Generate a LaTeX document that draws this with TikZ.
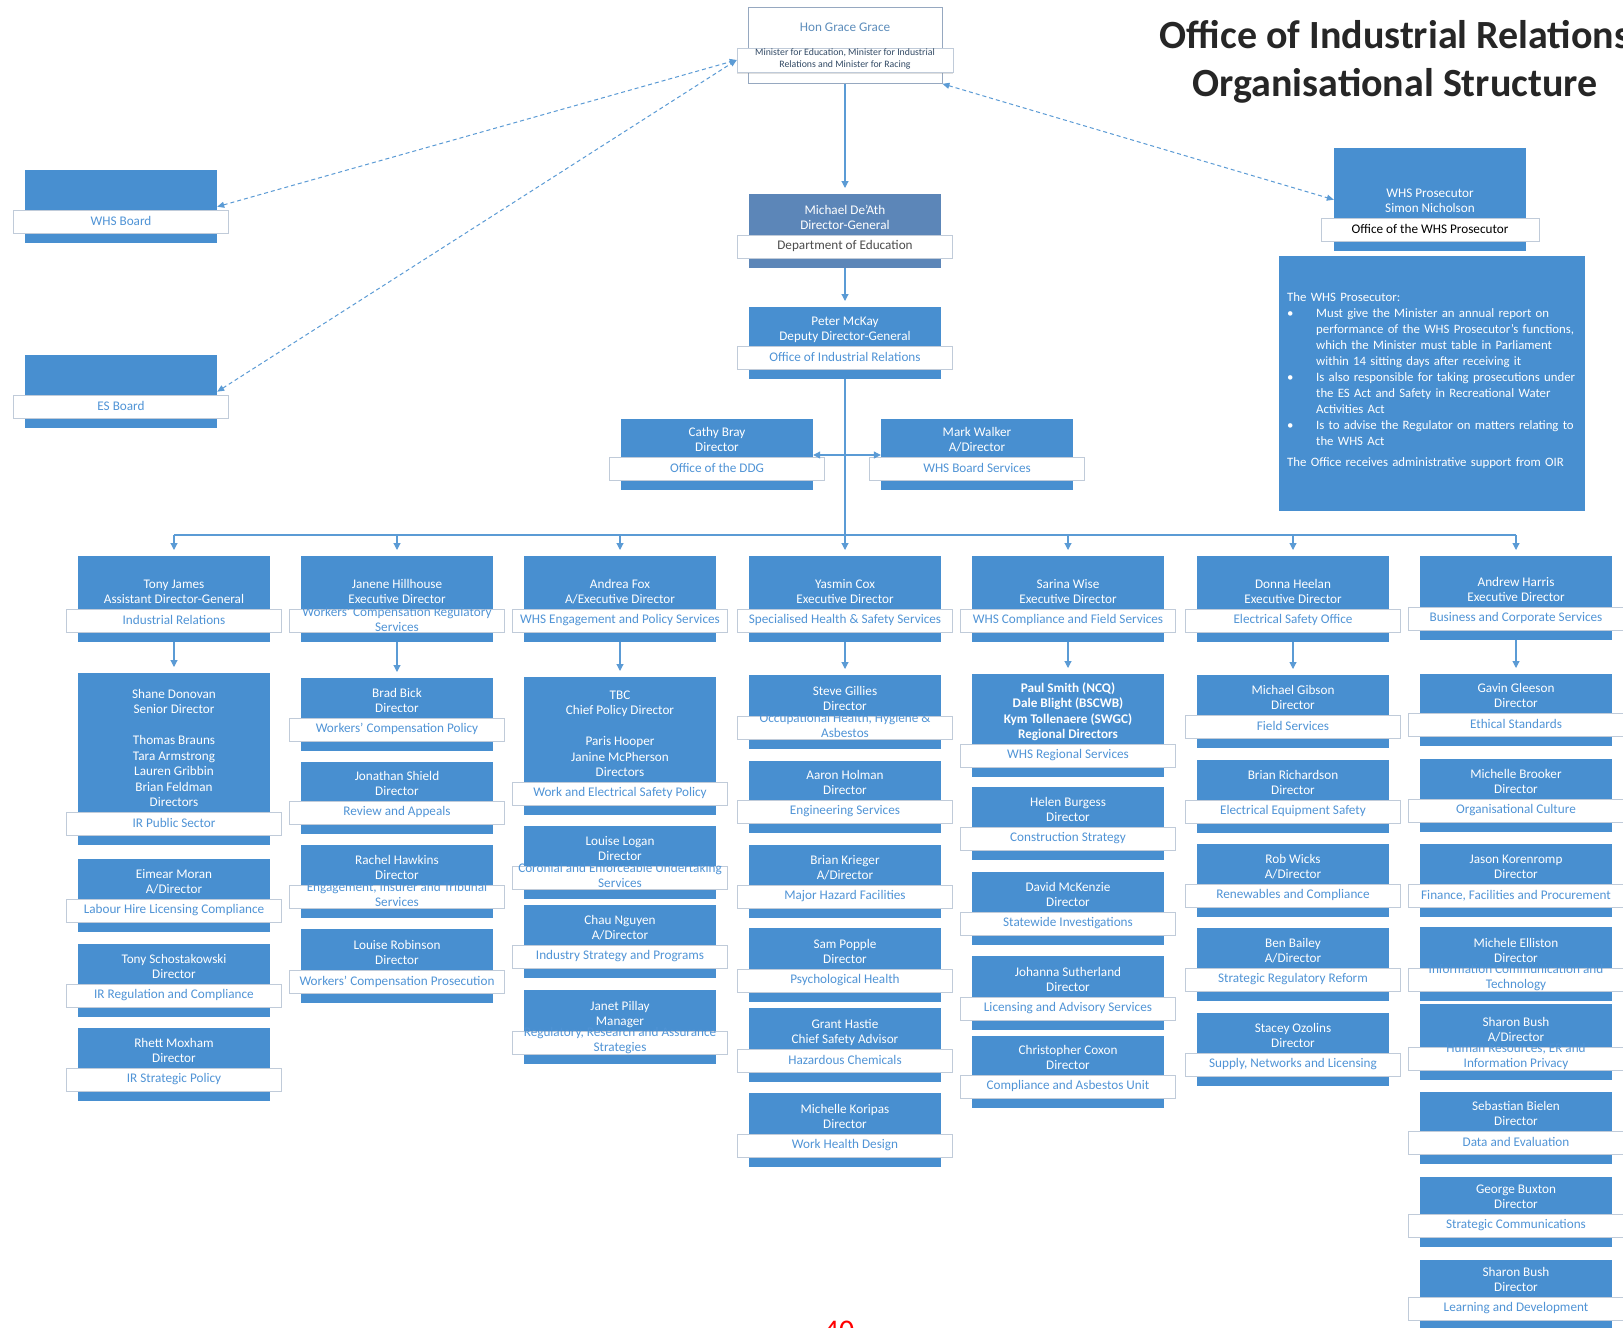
\documentclass[tikz,border=0pt]{standalone}
\usepackage{fontspec}
\setmainfont{Carlito}
\usetikzlibrary{calc, arrows.meta, shadows}

\definecolor{oirblue}{RGB}{72,143,208}
\definecolor{oirdark}{RGB}{92,134,184}
\definecolor{oirtext}{RGB}{80,148,214}
\definecolor{oirline}{RGB}{91,155,213}
\definecolor{oirframe}{RGB}{150,168,192}

% one org unit: blue box, white band with the unit name, people above the band
\newcommand{\orgunit}[6]{%
  \node (#1) [unitbox, minimum height=#4pt] at (#2,#3) {};
  \node (#1l) [unitband] at ($(#1.south)+(0,-22)$) {#6};
  \node (#1n) [unitname] at (#1l.north) {#5\strut};
}
\newcommand{\twolines}[2]{\smash{\makebox[0pt]{\raisebox{-1.5pt}{\parbox[c]{250pt}{\centering #1\\#2}}}}}

\begin{document}
\begin{tikzpicture}[
    x=1pt, y=-1pt,
    unitbox/.style={rectangle, fill=oirblue, anchor=north, minimum width=192pt, inner sep=0pt},
    unitband/.style={rectangle, fill=white, draw=oirframe!60, line width=0.6pt, minimum width=215pt, minimum height=23pt, inner sep=0pt, text=oirtext, font=\fontsize{13.2}{15}\selectfont, drop shadow={shadow xshift=0pt, shadow yshift=-1.5pt, opacity=.25}},
    unitname/.style={anchor=south, inner sep=0pt, align=center, text=white, font=\fontsize{13.2}{15.5}\selectfont},
    arrow/.style={draw=oirline, line width=1.1pt, -{Triangle[length=7pt,width=7pt]}, shorten >=6pt},
    link/.style={draw=oirline, line width=1.1pt},
    boardlink/.style={draw=oirline, line width=1pt, dash pattern=on 4pt off 3pt, {Triangle[length=7pt,width=6pt]}-{Triangle[length=7pt,width=6pt]}}
]
\fill[white] (0,0) rectangle (1623,1328);
\useasboundingbox (0,0) rectangle (1623,1328);

% Title
\node (title) [align=center, text=black!85, font=\fontsize{40}{48}\selectfont\bfseries] at (1395,62) {Office of Industrial Relations\\Organisational Structure};

% Minister
\node (minister) [rectangle, draw=oirframe, fill=white, line width=0.8pt, anchor=north, minimum width=194pt, minimum height=76pt] at (845,7) {};
\node (ministern) [text=oirtext!70!gray, font=\fontsize{13.2}{15}\selectfont] at (845,27) {Hon Grace Grace};
\node (ministerl) [unitband, minimum width=216pt, minimum height=24pt, text=black!45!oirdark, font=\fontsize{9.8}{11.5}\selectfont] at (845,60) {\twolines{Minister for Education, Minister for Industrial}{Relations and Minister for Racing}};

% Boards and prosecutor
\orgunit{whsb}{121}{170}{73}{}{WHS Board}
\orgunit{esb}{121}{355}{73}{}{ES Board}
\begin{scope}[unitband/.append style={text=black, minimum width=218pt}]
\orgunit{prosecutor}{1430}{148}{103}{WHS Prosecutor\\Simon Nicholson}{Office of the WHS Prosecutor}
\end{scope}
\node (prosnote) [rectangle, fill=oirblue, anchor=north west, minimum width=306pt, minimum height=255pt] at (1279,256) {};
\node (prosnotet) [anchor=north west, inner sep=0pt, text width=300pt, align=left, text=white, font=\fontsize{12.8}{16}\selectfont] at (1287,292) {The WHS Prosecutor:\\
\makebox[29pt][l]{\textbullet}Must give the Minister an annual report on\\
\hspace*{29pt}performance of the WHS Prosecutor's functions,\\
\hspace*{29pt}which the Minister must table in Parliament\\
\hspace*{29pt}within 14 sitting days after receiving it\\
\makebox[29pt][l]{\textbullet}Is also responsible for taking prosecutions under\\
\hspace*{29pt}the ES Act and Safety in Recreational Water\\
\hspace*{29pt}Activities Act\\
\makebox[29pt][l]{\textbullet}Is to advise the Regulator on matters relating to\\
\hspace*{29pt}the WHS Act\\[5pt]
The Office receives administrative support from OIR};

% Director-General and DDG
\begin{scope}[unitbox/.append style={fill=oirdark}, unitband/.append style={text=black!70}]
\orgunit{death}{845}{194}{74}{Michael De'Ath\\Director-General}{Department of Education}
\end{scope}
\orgunit{mckay}{845}{307}{72}{Peter McKay\\Deputy Director-General}{Office of Industrial Relations}
\orgunit{bray}{717}{419}{71}{Cathy Bray\\Director}{Office of the DDG}
\orgunit{walker}{977}{419}{71}{Mark Walker\\A/Director}{WHS Board Services}

% Executive row
\orgunit{james}{174}{556}{86}{Tony James\\Assistant Director-General}{Industrial Relations}
\orgunit{hillhouse}{397}{556}{86}{Janene Hillhouse\\Executive Director}{\twolines{Workers' Compensation Regulatory}{Services}}
\orgunit{fox}{620}{556}{86}{Andrea Fox\\A/Executive Director}{WHS Engagement and Policy Services}
\orgunit{cox}{845}{556}{86}{Yasmin Cox\\Executive Director}{Specialised Health \& Safety Services}
\orgunit{wise}{1068}{556}{86}{Sarina Wise\\Executive Director}{WHS Compliance and Field Services}
\orgunit{heelan}{1293}{556}{86}{Donna Heelan\\Executive Director}{Electrical Safety Office}
\orgunit{harris}{1516}{556}{84}{Andrew Harris\\Executive Director}{Business and Corporate Services}

% Industrial Relations
\orgunit{donovan}{174}{673}{172}{Shane Donovan\\Senior Director\\[15.5pt]Thomas Brauns\\Tara Armstrong\\Lauren Gribbin\\Brian Feldman\\Directors}{IR Public Sector}
\orgunit{moran}{174}{859}{73}{Eimear Moran\\A/Director}{Labour Hire Licensing Compliance}
\orgunit{schos}{174}{944}{73}{Tony Schostakowski\\Director}{IR Regulation and Compliance}
\orgunit{moxham}{174}{1028}{73}{Rhett Moxham\\Director}{IR Strategic Policy}

% Workers' Compensation
\orgunit{bick}{397}{678}{73}{Brad Bick\\Director}{Workers' Compensation Policy}
\orgunit{shield}{397}{762}{72}{Jonathan Shield\\Director}{Review and Appeals}
\orgunit{hawkins}{397}{845}{73}{Rachel Hawkins\\Director}{\twolines{Engagement, Insurer and Tribunal}{Services}}
\orgunit{robinson}{397}{929}{74}{Louise Robinson\\Director}{Workers' Compensation Prosecution}

% WHS Engagement and Policy
\orgunit{tbc}{620}{677}{138}{TBC\\Chief Policy Director\\[15.5pt]Paris Hooper\\Janine McPherson\\Directors}{Work and Electrical Safety Policy}
\orgunit{logan}{620}{826}{73}{Louise Logan\\Director}{\twolines{Coronial and Enforceable Undertaking}{Services}}
\orgunit{nguyen}{620}{905}{73}{Chau Nguyen\\A/Director}{Industry Strategy and Programs}
\orgunit{pillay}{620}{990}{74}{Janet Pillay\\Manager}{\twolines{Regulatory, Research and Assurance}{Strategies}}

% Specialised Health & Safety
\orgunit{gillies}{845}{675}{74}{Steve Gillies\\Director}{\twolines{Occupational Health, Hygiene \&}{Asbestos}}
\orgunit{holman}{845}{761}{72}{Aaron Holman\\Director}{Engineering Services}
\orgunit{krieger}{845}{845}{73}{Brian Krieger\\A/Director}{Major Hazard Facilities}
\orgunit{popple}{845}{928}{74}{Sam Popple\\Director}{Psychological Health}
\orgunit{hastie}{845}{1008}{74}{Grant Hastie\\Chief Safety Advisor}{Hazardous Chemicals}
\orgunit{koripas}{845}{1093}{74}{Michelle Koripas\\Director}{Work Health Design}

% WHS Compliance and Field
\begin{scope}[unitname/.append style={font=\fontsize{13.2}{15.5}\selectfont\bfseries}]
\orgunit{smith}{1068}{674}{103}{Paul Smith (NCQ)\\Dale Blight (BSCWB)\\Kym Tollenaere (SWGC)\\Regional Directors}{WHS Regional Services}
\end{scope}
\orgunit{burgess}{1068}{787}{73}{Helen Burgess\\Director}{Construction Strategy}
\orgunit{mckenzie}{1068}{872}{73}{David McKenzie\\Director}{Statewide Investigations}
\orgunit{sutherland}{1068}{956}{74}{Johanna Sutherland\\Director}{Licensing and Advisory Services}
\orgunit{coxon}{1068}{1036}{72}{Christopher Coxon\\Director}{Compliance and Asbestos Unit}

% Electrical Safety Office
\orgunit{gibson}{1293}{675}{73}{Michael Gibson\\Director}{Field Services}
\orgunit{richardson}{1293}{760}{73}{Brian Richardson\\Director}{Electrical Equipment Safety}
\orgunit{wicks}{1293}{844}{73}{Rob Wicks\\A/Director}{Renewables and Compliance}
\orgunit{bailey}{1293}{928}{73}{Ben Bailey\\A/Director}{Strategic Regulatory Reform}
\orgunit{ozolins}{1293}{1013}{73}{Stacey Ozolins\\Director}{Supply, Networks and Licensing}

% Business and Corporate
\orgunit{gleeson}{1516}{674}{72}{Gavin Gleeson\\Director}{Ethical Standards}
\orgunit{brooker}{1516}{759}{73}{Michelle Brooker\\Director}{Organisational Culture}
\orgunit{korenromp}{1516}{844}{73}{Jason Korenromp\\Director}{Finance, Facilities and Procurement}
\orgunit{elliston}{1516}{927}{74}{Michele Elliston\\Director}{\twolines{Information Communication and}{Technology}}
\orgunit{bush}{1516}{1004}{76}{Sharon Bush\\A/Director}{\twolines{Human Resources, ER and}{Information Privacy}}
\orgunit{bielen}{1516}{1092}{72}{Sebastian Bielen\\Director}{Data and Evaluation}
\orgunit{buxton}{1516}{1177}{70}{George Buxton\\Director}{Strategic Communications}
\orgunit{bushld}{1516}{1260}{70}{Sharon Bush\\Director}{Learning and Development}

\node (pageno) [anchor=north, inner sep=0pt, text=red, font=\fontsize{30}{30}\selectfont] at (839,1321) {40};

% Reporting lines
\draw [arrow] (minister) -- (death);
\draw [arrow] (death) -- (mckay);
\draw [arrow] (mckay) -- (cox);
\coordinate (ddgside) at (845,455);
\draw [arrow, shorten >=0pt] (ddgside) -- (bray.east |- ddgside);
\draw [arrow, shorten >=0pt] (ddgside) -- (walker.west |- ddgside);
\coordinate (bus) at (845,535);
\draw [link] (james.north |- bus) -- (harris.north |- bus);
\draw [arrow] (james.north |- bus) -- (james);
\draw [arrow] (hillhouse.north |- bus) -- (hillhouse);
\draw [arrow] (fox.north |- bus) -- (fox);
\draw [arrow] (wise.north |- bus) -- (wise);
\draw [arrow] (heelan.north |- bus) -- (heelan);
\draw [arrow] (harris.north |- bus) -- (harris);
\draw [arrow] (james) -- (donovan);
\draw [arrow] (hillhouse) -- (bick);
\draw [arrow] (fox) -- (tbc);
\draw [arrow] (cox) -- (gillies);
\draw [arrow] (wise) -- (smith);
\draw [arrow] (heelan) -- (gibson);
\draw [arrow] (harris) -- (gleeson);

% Boards and prosecutor
\draw [boardlink] (whsb.east) -- (ministerl.west);
\draw [boardlink] (esb.east) -- (ministerl.west);
\draw [boardlink] (minister.south east) -- (prosecutor.west);

\end{tikzpicture}
\end{document}
